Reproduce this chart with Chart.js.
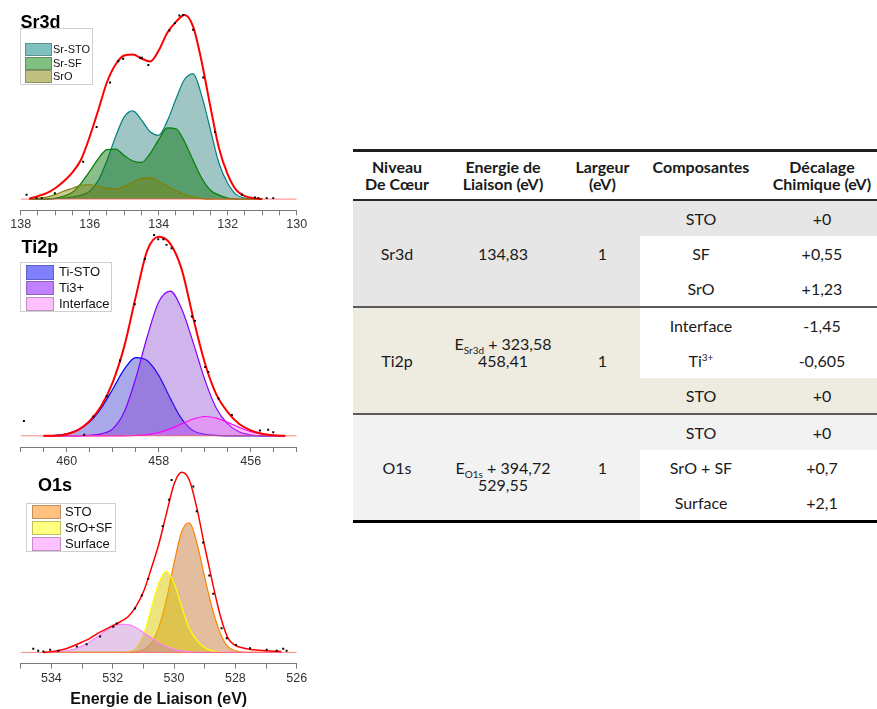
<!DOCTYPE html>
<html>
<head>
<meta charset="utf-8">
<title>XPS Sr3d / Ti2p / O1s</title>
<script src="https://cdn.jsdelivr.net/npm/chart.js@4.4.1/dist/chart.umd.min.js"></script>
<style>
  html, body { margin: 0; padding: 0; }
  body {
    width: 877px; height: 709px; overflow: hidden; position: relative; background: #fff;
    font-family: "Liberation Sans", Arial, sans-serif;
  }
  canvas.spec { position: absolute; left: 0; }
  .title { position: absolute; font-weight: bold; font-size: 18px; line-height: 18px; color: #000; }
  .legend { position: absolute; background: #fff; border: 1px solid #cfcfcf; box-sizing: border-box; }
  .legend .sw { position: absolute; box-sizing: border-box; border: 1px solid rgba(0,0,0,0.25); }
  .legend .lbl { position: absolute; color: #111; white-space: nowrap; }

  #tbl {
    position: absolute; left: 353px; top: 149px; width: 529px;
    border-collapse: collapse; table-layout: fixed;
    font-family: Lato, "Open Sans", sans-serif; font-size: 16px; color: #1a1a1a;
    border-top: 3px solid #1e1e1e; border-bottom: 3px solid #000;
  }
  #tbl th, #tbl td { padding: 0; text-align: center; }
  #tbl th { font-weight: bold; vertical-align: top; height: 49px; line-height: 16.6px; padding-top: 7px; box-sizing: border-box; }
  #tbl thead tr { border-bottom: 2px solid #2a2a2a; }
  #tbl td { height: 35px; vertical-align: middle; }
  #tbl tbody.g2, #tbl tbody.g3 { border-top: 2px solid #5a5a5a; }
  #tbl .g1 .bg { background: #e7e6e6; }
  #tbl .g2 .bg { background: #eeece1; }
  #tbl .g3 .bg { background: #f2f2f2; }
  #tbl sub, #tbl sup { font-size: 10px; line-height: 0; }
  #tbl .up { padding-bottom: 17px; line-height: 17px; }
  #tbl .down { padding-top: 17px; line-height: 17px; }
</style>
</head>
<body>

<canvas id="srChart" class="spec" width="310" height="235" style="top:0px"></canvas>
<canvas id="tiChart" class="spec" width="310" height="244" style="top:228px"></canvas>
<canvas id="oChart" class="spec" width="310" height="248" style="top:462px"></canvas>

<div class="title" style="left:20.5px;top:13px">Sr3d</div>
<div class="title" style="left:21.5px;top:238px">Ti2p</div>
<div class="title" style="left:38px;top:476px">O1s</div>

<div id="srLegend" class="legend"></div>
<div id="tiLegend" class="legend"></div>
<div id="oLegend" class="legend"></div>

<table id="tbl">
  <colgroup>
    <col style="width:88px"><col style="width:124px"><col style="width:75px"><col style="width:122px"><col style="width:120px">
  </colgroup>
  <thead>
    <tr>
      <th>Niveau<br>De Cœur</th>
      <th>Energie de<br>Liaison (eV)</th>
      <th>Largeur<br>(eV)</th>
      <th>Composantes</th>
      <th>Décalage<br>Chimique (eV)</th>
    </tr>
  </thead>
  <tbody class="g1">
    <tr><td rowspan="3" class="bg">Sr3d</td><td rowspan="3" class="bg">134,83</td><td rowspan="3" class="bg">1</td><td class="bg">STO</td><td class="bg">+0</td></tr>
    <tr><td>SF</td><td>+0,55</td></tr>
    <tr><td>SrO</td><td>+1,23</td></tr>
  </tbody>
  <tbody class="g2">
    <tr><td rowspan="3" class="bg">Ti2p</td><td rowspan="3" class="bg"><div class="up">E<sub>Sr3d</sub> + 323,58<br>458,41</div></td><td rowspan="3" class="bg">1</td><td>Interface</td><td>-1,45</td></tr>
    <tr><td>Ti<sup>3+</sup></td><td>-0,605</td></tr>
    <tr><td class="bg">STO</td><td class="bg">+0</td></tr>
  </tbody>
  <tbody class="g3">
    <tr><td rowspan="3" class="bg">O1s</td><td rowspan="3" class="bg"><div class="down">E<sub>O1s</sub> + 394,72<br>529,55</div></td><td rowspan="3" class="bg">1</td><td class="bg">STO</td><td class="bg">+0</td></tr>
    <tr><td>SrO + SF</td><td>+0,7</td></tr>
    <tr><td>Surface</td><td>+2,1</td></tr>
  </tbody>
</table>

<script>
// ---------- Sr3d (binding energy in eV, intensity in arbitrary units) ----------
const srEnergy = [137.75, 137.5, 137.25, 137.0, 136.75, 136.5, 136.25, 136.0, 135.75, 135.5, 135.25, 135.0, 134.75, 134.5,
  134.25, 134.0, 133.75, 133.5, 133.25, 133.0, 132.75, 132.5, 132.25, 132.0, 131.75, 131.5, 131.25, 131.0];
const srEnvelope = [0.5, 3, 6, 11, 18, 27, 40, 63, 90, 118, 136, 145, 146, 142, 139, 150, 168, 179, 186, 174, 138, 93, 51, 25, 9, 3, 1, 0];
const srSTO = [0, 0, 0, 0.5, 1, 2, 4, 8, 19, 39, 63, 83, 89, 80, 68, 64.5, 79, 101, 121, 126.5, 104, 70, 36, 16, 4.5, 1, 0, 0];
const srSF = [0, 0, 0, 1, 3, 7, 16, 28, 41, 50, 50.5, 44, 38.5, 37, 46, 60, 72, 71, 58, 39, 21, 9, 4, 1, 0, 0, 0, 0];
const srSrO = [0.5, 1, 2, 4.5, 8, 11, 14, 14.5, 13, 11, 10, 12.5, 17, 21, 21.5, 18, 13, 8.5, 4.5, 2, 0.5, 0, 0, 0, 0, 0, 0, 0];
const srDotsE = [137.83, 137.54, 137.39, 137.01, 136.19, 135.8, 135.41, 135.17, 135.03, 134.54, 134.49, 134.3, 133.69,
  133.53, 133.4, 133.29, 133.0, 132.71, 132.37, 131.59, 131.21, 131.11, 130.87, 130.68];
const srDotsI = [4.3, 1, 1, 6, 37.7, 72.7, 117.7, 139.3, 141.7, 142.7, 142.7, 135.3, 170.3, 177.7, 185.3, 186, 171, 122.7,
  67.7, 4.3, 1.7, 1, 1, 1];
const srNames = ["Sr-STO", "Sr-SF", "SrO"];

// ---------- Ti2p ----------
const tiEnergy = [460.5, 460.25, 460.0, 459.75, 459.5, 459.25, 459.0, 458.75, 458.5, 458.25, 458.0, 457.75, 457.5, 457.25,
  457.0, 456.75, 456.5, 456.25, 456.0, 455.75, 455.5, 455.25];
const tiEnvelope = [0, 0, 1.5, 6, 15, 30, 54, 90, 140, 187, 201, 194, 168, 119, 74, 42, 24, 12, 5.5, 2, 0.5, 0];
const tiSTO = [0, 0.5, 2, 6, 14, 28, 47, 67, 79, 76, 61, 38, 17, 5, 1.5, 0.5, 0, 0, 0, 0, 0, 0];
const tiTi3 = [0, 0, 0, 0, 0.5, 2, 7, 24, 58, 100, 135, 146, 128, 94, 57, 28, 12, 4, 1, 0, 0, 0];
const tiInterface = [0, 0, 0, 0, 0, 0, 0, 0, 0.3, 1.2, 3.3, 7, 12, 17, 19.5, 18, 13.5, 8.5, 4.2, 1.7, 0.5, 0];
const tiDotsE = [460.93, 459.62, 459.42, 459.13, 458.84, 458.52, 458.3, 458.1, 458.01, 457.9, 457.83, 457.72, 457.28,
  457.21, 456.99, 456.92, 456.7, 456.41, 455.8, 455.62, 455.51];
const tiDotsI = [15, 1, 19.4, 40, 76, 132.7, 178.4, 202.7, 198.4, 198.4, 192.7, 189.4, 120.4, 116, 69.4, 64.4, 37.7, 21,
  5.4, 6, 3.7];
const tiNames = ["Ti-STO", "Ti3+", "Interface"];

// ---------- O1s ----------
const oEnergy = [534.25, 534.0, 533.75, 533.5, 533.25, 533.0, 532.75, 532.5, 532.25, 532.0, 531.75, 531.5, 531.25, 531.0,
  530.75, 530.5, 530.25, 530.0, 529.75, 529.5, 529.25, 529.0, 528.75, 528.5, 528.25, 528.0, 527.75, 527.5, 527.25, 527.0,
  526.75, 526.5];
const oEnvelope = [0, 0.8, 2, 4, 7, 10.5, 14, 19, 23, 27, 31, 36, 46, 61, 84, 109, 140, 170, 182, 174, 145, 107, 71, 38, 15,
  7, 4.5, 3, 2.2, 1.6, 1.2, 1];
const oSTO = [0, 0, 0, 0, 0, 0, 0, 0, 0, 0, 0, 0.2, 0.6, 2.7, 9, 25, 53, 90, 122, 131, 110, 76, 44, 20, 6, 1.5, 0.3, 0, 0, 0, 0, 0];
const oSrOSF = [0, 0, 0, 0, 0, 0, 0, 0, 0, 0, 0, 0.8, 4, 17, 44, 70, 82, 70, 46, 24, 12, 5, 1.5, 0.3, 0, 0, 0, 0, 0, 0, 0, 0];
const oSurface = [0, 0.3, 0.8, 1.7, 3.5, 6.4, 10.6, 15.8, 21.3, 25.9, 28.4, 28.1, 25.1, 20.2, 14.7, 9.6, 5.7, 3.1, 1.5, 0.6,
  0.2, 0, 0, 0, 0, 0, 0, 0, 0, 0, 0, 0];
const oDotsE = [534.59, 534.43, 534.26, 534.04, 533.77, 533.17, 532.85, 532.41, 531.98, 531.87, 531.27, 531.05, 530.84,
  530.37, 530.16, 530.08, 529.64, 529.37, 529.26, 529.05, 528.85, 528.72, 528.45, 528.28, 527.98, 527.52, 526.98, 526.65,
  526.44, 526.33];
const oDotsI = [3.6, 1.6, 1, 2.6, 1.6, 6, 8.3, 16, 26, 29.3, 44.3, 57.6, 74.3, 127.6, 154.3, 174.3, 186, 167.6, 142.6, 111,
  77.6, 59.3, 24.3, 14.3, 7.6, 4.3, 2.6, 1.6, 3.6, 1.6];
const oNames = ["STO", "SrO+SF", "Surface"];

Chart.defaults.font.family = '"Liberation Sans", Arial, sans-serif';

function toXY(xs, ys) {
  return xs.map((x, i) => ({ x: x, y: ys[i] }));
}

function makeSpectrum(canvasId, p) {
  const datasets = [
    {
      // raw data points
      data: toXY(p.dotsE, p.dotsI),
      showLine: false,
      pointStyle: "rect",
      pointRadius: 1.4,
      pointBackgroundColor: "#000",
      pointBorderWidth: 0,
    },
    {
      // fit envelope
      data: toXY(p.energy, p.envelope),
      borderColor: "#ff0000",
      borderWidth: p.envWidth,
      pointRadius: 0,
      fill: false,
      cubicInterpolationMode: "monotone",
    },
    {
      // baseline
      data: [{ x: p.xMin, y: 0 }, { x: p.xMax, y: 0 }],
      borderColor: "rgba(255, 90, 90, 0.75)",
      borderWidth: 1,
      pointRadius: 0,
      fill: false,
    },
  ];

  // first legend entry sits at the back, so push in reverse order
  for (let i = p.comps.length - 1; i >= 0; i--) {
    const c = p.comps[i];
    datasets.push({
      data: toXY(p.energy, c.values),
      borderColor: c.line,
      backgroundColor: c.fill,
      borderWidth: 1.2,
      pointRadius: 0,
      fill: "origin",
      cubicInterpolationMode: "monotone",
    });
  }

  const xScale = {
    type: "linear",
    reverse: true,
    min: p.xMin,
    max: p.xMax,
    border: { display: true, color: "#7a7a7a", width: 1 },
    grid: { display: true, drawOnChartArea: false, drawTicks: true, tickLength: 5, color: "#7a7a7a" },
    ticks: {
      stepSize: p.step,
      autoSkip: false,
      maxRotation: 0,
      padding: 2,
      color: "#333",
      font: { size: 12.5 },
      callback: (v) => (Math.abs(v % 2) < 1e-6 ? String(v) : ""),
    },
  };
  if (p.xTitle) {
    xScale.title = {
      display: true,
      text: p.xTitle,
      color: "#111",
      font: { size: 16, weight: "bold" },
      padding: { top: 2, bottom: 0 },
    };
  }

  return new Chart(document.getElementById(canvasId), {
    type: "line",
    data: { datasets },
    options: {
      responsive: false,
      animation: false,
      devicePixelRatio: 1,
      layout: { padding: p.pad },
      plugins: { legend: { display: false }, tooltip: { enabled: false } },
      scales: {
        x: xScale,
        y: { display: false, min: p.yMin, max: p.yMax },
      },
    },
  });
}

function makeLegend(id, names, comps, g) {
  const box = document.getElementById(id);
  box.style.left = g.left + "px";
  box.style.top = g.top + "px";
  box.style.width = g.width + "px";
  box.style.height = g.height + "px";
  names.forEach((name, i) => {
    const sw = document.createElement("div");
    sw.className = "sw";
    sw.style.left = g.swX + "px";
    sw.style.top = g.rows[i] + "px";
    sw.style.width = g.swW + "px";
    sw.style.height = g.rowH + "px";
    sw.style.background = comps[i].swatch;
    box.appendChild(sw);
    const lbl = document.createElement("div");
    lbl.className = "lbl";
    lbl.textContent = name;
    lbl.style.left = g.textX + "px";
    lbl.style.top = g.rows[i] + "px";
    lbl.style.fontSize = g.font + "px";
    lbl.style.lineHeight = g.rowH + "px";
    box.appendChild(lbl);
  });
}

const srComps = [
  { values: srSTO, line: "#008080", fill: "rgba(64, 140, 140, 0.5)", swatch: "#80c0c0" },
  { values: srSF, line: "#008000", fill: "rgba(0, 110, 0, 0.45)", swatch: "#80c080" },
  { values: srSrO, line: "#808000", fill: "rgba(128, 128, 0, 0.4)", swatch: "#c0c080" },
];
const tiComps = [
  { values: tiSTO, line: "#0000ff", fill: "rgba(40, 40, 200, 0.4)", swatch: "#8080ff" },
  { values: tiTi3, line: "#8000ff", fill: "rgba(120, 40, 200, 0.35)", swatch: "#c080ff" },
  { values: tiInterface, line: "#ff00ff", fill: "rgba(255, 100, 255, 0.35)", swatch: "#ffc0ff" },
];
const oComps = [
  { values: oSTO, line: "#ff8000", fill: "rgba(190, 110, 40, 0.45)", swatch: "#ffc080" },
  { values: oSrOSF, line: "#ffff00", fill: "rgba(220, 200, 0, 0.5)", swatch: "#ffff80" },
  { values: oSurface, line: "#ff80ff", fill: "rgba(190, 120, 200, 0.4)", swatch: "#ffc0ff" },
];

makeSpectrum("srChart", {
  energy: srEnergy, envelope: srEnvelope, dotsE: srDotsE, dotsI: srDotsI, comps: srComps,
  xMin: 130, xMax: 138, step: 0.5, yMin: -11.3, yMax: 196, envWidth: 2,
  pad: { left: 20.7, right: 13.3, top: 5, bottom: 0.7 },
});
makeSpectrum("tiChart", {
  energy: tiEnergy, envelope: tiEnvelope, dotsE: tiDotsE, dotsI: tiDotsI, comps: tiComps,
  xMin: 455, xMax: 461, step: 0.5, yMin: -11.3, yMax: 205.7, envWidth: 2,
  pad: { left: 20.7, right: 13.3, top: 4, bottom: 1 },
});
makeSpectrum("oChart", {
  energy: oEnergy, envelope: oEnvelope, dotsE: oDotsE, dotsI: oDotsI, comps: oComps,
  xMin: 526, xMax: 535, step: 1, yMin: -11.4, yMax: 184.3, envWidth: 1.5,
  xTitle: "Energie de Liaison (eV)",
  pad: { left: 20.7, right: 13.3, top: 8, bottom: 1.1 },
});

makeLegend("srLegend", srNames, srComps,
  { left: 20, top: 28, width: 73, height: 57, swX: 4, swW: 27, rows: [14, 28, 41], rowH: 12.5, textX: 32, font: 11 });
makeLegend("tiLegend", tiNames, tiComps,
  { left: 19.5, top: 261.5, width: 92.5, height: 50, swX: 5, swW: 28.5, rows: [2.5, 18, 34], rowH: 14.5, textX: 38.5, font: 13 });
makeLegend("oLegend", oNames, oComps,
  { left: 26, top: 503, width: 89.5, height: 48.5, swX: 4.5, swW: 29.5, rows: [1, 16.5, 32.5], rowH: 14, textX: 38, font: 13 });
</script>
</body>
</html>
